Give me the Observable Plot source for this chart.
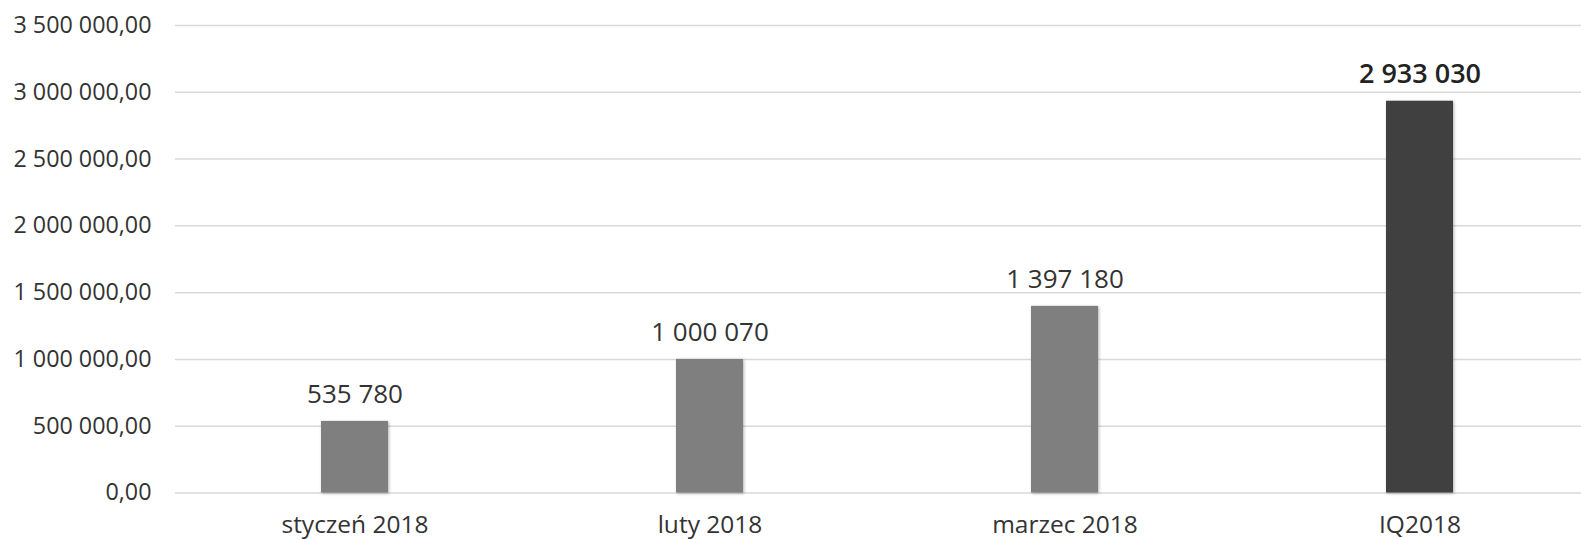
<!DOCTYPE html>
<html><head><meta charset="utf-8">
<script src="https://cdn.jsdelivr.net/npm/d3@7"></script>
<script src="https://cdn.jsdelivr.net/npm/@observablehq/plot@0.6"></script>
<style>body{margin:0;background:#fff}</style>
</head><body><div id="chart"></div>
<script>
const categories = ["styczeń 2018", "luty 2018", "marzec 2018", "IQ2018"];
const values = [535780, 1000070, 1397180, 2933030];
const barColors = ["#7f7f7f", "#7f7f7f", "#7f7f7f", "#404040"];
const yTicks = [0, 500000, 1000000, 1500000, 2000000, 2500000, 3000000, 3500000];

const data = categories.map((c, i) => ({category: c, value: values[i], color: barColors[i], total: i === 3}));
const fmt = v => d3.format(",")(v).replace(/,/g, " ");
const fmtAxis = v => d3.format(",.2f")(v).replace(/,/g, " ").replace(".", ",");

const chart = Plot.plot({
  width: 1581,
  height: 539,
  marginLeft: 175,
  marginRight: 0,
  marginTop: 25,
  marginBottom: 46.5,
  style: {fontFamily: "'Open Sans', sans-serif", color: "#333", background: "#fff"},
  x: {domain: categories, range: [175, 1598], paddingInner: 0.812, paddingOuter: 0.406, align: 0.5, label: null},
  y: {domain: [0, 3500000], label: null},
  color: {type: "identity"},
  marks: [
    Plot.ruleY(yTicks, {stroke: "#d9d9d9", strokeWidth: 1.5}),
    Plot.barY(data, {x: "category", y: "value", fill: "color", imageFilter: "drop-shadow(1px 1px 1.5px rgba(0,0,0,0.3))"}),
    Plot.text(data.filter(d => !d.total), {x: "category", y: "value", text: d => fmt(d.value), lineAnchor: "bottom", dy: -18, fontSize: 26, fill: "#333"}),
    Plot.text(data.filter(d => d.total), {x: "category", y: "value", text: d => fmt(d.value), lineAnchor: "bottom", dy: -18, fontSize: 27, fontWeight: 600, fill: "#222"}),
    Plot.axisY({ticks: yTicks, tickSize: 0, tickPadding: 24, tickFormat: fmtAxis, fontSize: 23.3, label: null}),
    Plot.axisX({tickSize: 0, tickPadding: 23, fontSize: 24.5, label: null})
  ]
});
document.getElementById("chart").append(chart);
</script>
</body></html>
